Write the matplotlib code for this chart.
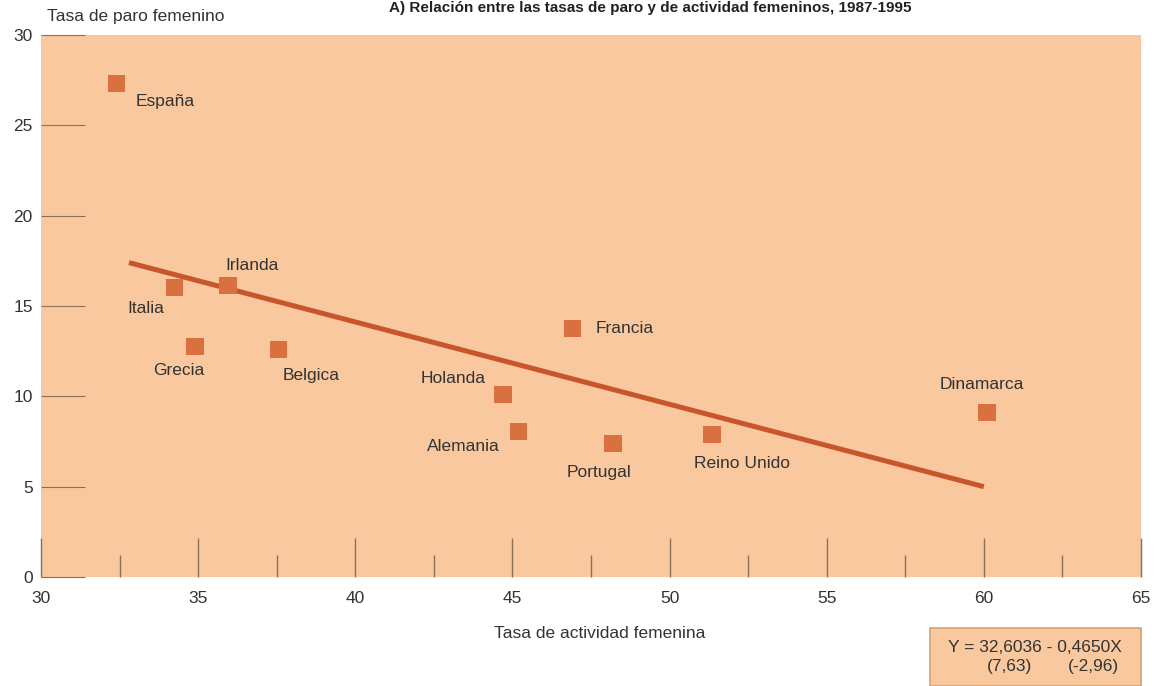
import matplotlib
matplotlib.use("Agg")
import matplotlib.pyplot as plt
from matplotlib.patches import Rectangle
from matplotlib.ticker import MultipleLocator

plt.rcParams['font.family'] = ['Liberation Sans', 'DejaVu Sans']

# Data
countries = ["España", "Italia", "Irlanda", "Grecia", "Belgica", "Holanda",
             "Alemania", "Francia", "Portugal", "Reino Unido", "Dinamarca"]
actividad = [32.4, 34.25, 35.95, 34.9, 37.55, 44.7, 45.2, 46.9, 48.2, 51.35, 60.1]
paro = [27.3, 16.0, 16.15, 12.75, 12.6, 10.1, 8.05, 13.75, 7.4, 7.9, 9.1]

# Regression line end points (as drawn)
fit_x = [32.8, 60.0]
fit_y = [17.4, 5.0]

x_ticks = [30, 35, 40, 45, 50, 55, 60, 65]
y_ticks = [0, 5, 10, 15, 20, 25, 30]

title = "A) Relación entre las tasas de paro y de actividad femeninos, 1987-1995"
eq_line1 = "Y = 32,6036 - 0,4650X"
eq_t1 = "(7,63)"
eq_t2 = "(-2,96)"

# label offsets in pixels (dx, dy)
label_offsets = [(49, -18), (-29, -21), (24, 20), (-16, -24), (33, -26), (-50, 16),
                 (-55, -15), (53, 0), (-14, -29), (30, -29), (-5, 28)]

W, H = 1160, 686
fig = plt.figure(figsize=(W / 100, H / 100), dpi=100)
fig.patch.set_facecolor("white")
ax = fig.add_axes([41 / W, 1 - 577 / H, 1100 / W, (577 - 35) / H])
bg = "#f9c89e"
ax.set_facecolor(bg)
ax.set_xlim(30, 65)
ax.set_ylim(0, 30)
for s in ax.spines.values():
    s.set_visible(False)

txt = "#333333"
tickc = "#8c6e5c"
ax.set_xticks(x_ticks)
ax.xaxis.set_minor_locator(MultipleLocator(2.5))
ax.set_yticks(y_ticks)
ax.tick_params(axis='x', which='major', direction='in', length=28, width=1.0,
               color=tickc, pad=10, labelsize=12.5, labelcolor=txt)
ax.tick_params(axis='x', which='minor', direction='in', length=16, width=1.0,
               color=tickc)
ax.tick_params(axis='y', which='major', direction='in', length=32, width=0.8,
               color=tickc, pad=6, labelsize=12.5, labelcolor=txt)

line_c = "#c9552a"
ax.plot(fit_x, fit_y, color=line_c, lw=3.6, solid_capstyle='butt', zorder=2)
ax.scatter(actividad, paro, marker='s', s=150, color="#d9703f", edgecolors='none', zorder=3)

for name, x, y, (dx, dy) in zip(countries, actividad, paro, label_offsets):
    ax.annotate(name, (x, y), xytext=(dx, dy), textcoords='offset pixels',
                ha='center', va='center', fontsize=12.5, color=txt)

fig.text(47 / W, 1 - 17 / H, "Tasa de paro femenino", ha='left', va='center',
         fontsize=12.5, color=txt)
fig.text(600 / W, 1 - 634 / H, "Tasa de actividad femenina", ha='center', va='center',
         fontsize=12.5, color=txt)
fig.text(650 / W, 1 - 1 / H, title, ha='center', va='top', fontsize=11,
         fontweight='bold', color="#222222")

# Equation box
fig.patches.append(Rectangle((930 / W, 0), 211 / W, 58 / H, transform=fig.transFigure,
                             facecolor=bg, edgecolor="#d7a070", lw=1.2))
fig.text(1035 / W, 1 - 647 / H, eq_line1, ha='center', va='center', fontsize=12.5, color=txt)
fig.text(1010 / W, 1 - 667 / H, eq_t1, ha='center', va='center', fontsize=12.5, color=txt)
fig.text(1093 / W, 1 - 667 / H, eq_t2, ha='center', va='center', fontsize=12.5, color=txt)

fig.savefig("out.png", dpi=100)
